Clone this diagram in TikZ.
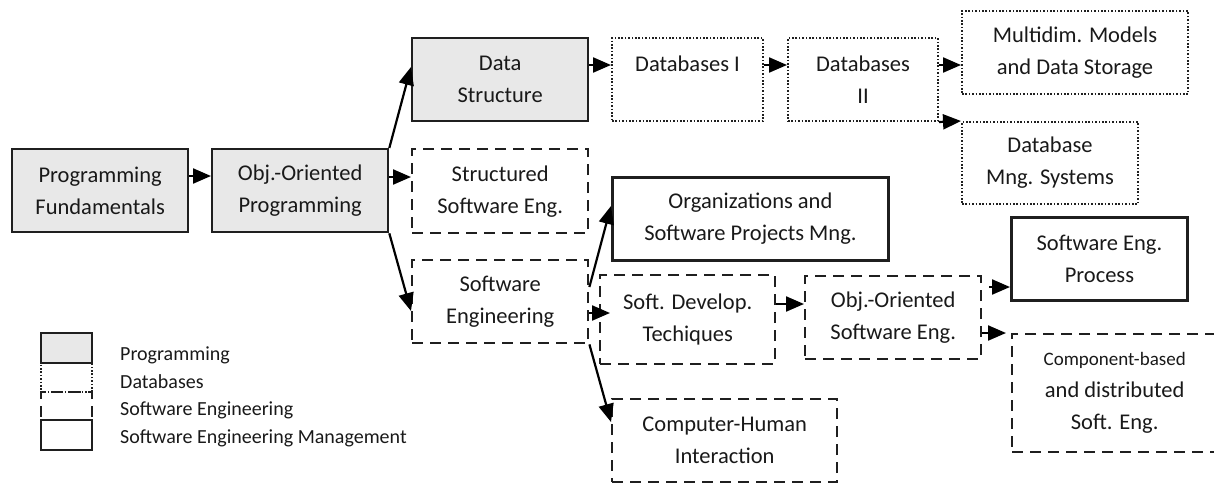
\documentclass[tikz,border=0pt]{standalone}
\usepackage{fontspec}
\setmainfont{Carlito}
\usetikzlibrary{arrows.meta,calc}
\begin{document}
\begin{tikzpicture}[x=1pt,y=-1pt,
  box/.style={draw=black!88, line width=2.3pt, inner sep=0pt, align=center,
    font=\fontsize{22.5}{32}\selectfont, text=black!90, anchor=north west},
  prog/.style={box, fill=black!9},
  db/.style={box, line width=2pt, dash pattern=on 1.6pt off 1.8pt},
  swe/.style={box, line width=2.4pt, dash pattern=on 11pt off 7pt},
  mgmt/.style={box, line width=2.8pt},
  arr/.style={-{Triangle[length=18pt,width=15pt]}, line width=2.2pt, draw=black},
  legtxt/.style={anchor=base west, inner sep=0pt, font=\fontsize{20}{24}\selectfont, text=black!90}]
\useasboundingbox (0,0) rectangle (1214,482);
\clip (0,0) rectangle (1214,482);
% boxes
\node[prog, minimum width=176, minimum height=83] (pf) at (11,148) {Programming\\Fundamentals};
\node[prog, minimum width=176, minimum height=83] (oop) at (211,148) {Obj.-Oriented\\Programming};
\node[prog, minimum width=176, minimum height=83] (ds) at (411,37) {Data\\Structure};
\node[db, minimum width=151, minimum height=83] (dbi) at (611,37) {Databases I\\\mbox{}};
\node[db, minimum width=150, minimum height=83] (dbii) at (787,37) {Databases\\II};
\node[db, minimum width=226, minimum height=83] (md) at (961,10) {Multidim. Models\\and Data Storage};
\node[db, minimum width=176, minimum height=82] (dbms) at (961,121) {Database\\Mng. Systems};
\node[swe, minimum width=176, minimum height=84] (sse) at (411,148) {Structured\\Software Eng.};
\node[mgmt, minimum width=276, minimum height=83] (org) at (611,176) {Organizations and\\Software Projects Mng.};
\node[swe, minimum width=176, minimum height=83] (se) at (411,259) {Software\\Engineering};
\node[swe, minimum width=175, minimum height=89] (sdt) at (599,274) {Soft. Develop.\\Techiques};
\node[swe, minimum width=176, minimum height=83] (oose) at (804,275) {Obj.-Oriented\\Software Eng.};
\node[mgmt, minimum width=176, minimum height=83] (sep) at (1010,216) {Software Eng.\\Process};
\node[swe, minimum width=225, minimum height=83] (chi) at (611,398) {Computer-Human\\Interaction};
\node[swe, minimum width=205, minimum height=118] (cbd) at (1011,333) {{\fontsize{19}{30}\selectfont Component-based}\\and distributed\\Soft. Eng.};
% connectors
\draw[arr] (pf.east |- 0,176) -- (oop.west |- 0,176);
\draw[arr] (oop.north east) -- (ds.west |- 0,67);
\draw[arr] (oop.east |- 0,177) -- (sse.west |- 0,177);
\draw[arr] (oop.south east) -- (se.west |- 0,311);
\draw[arr] (ds.east |- 0,65) -- (dbi.west |- 0,65);
\draw[arr] (dbi.east |- 0,65) -- (dbii.west |- 0,65);
\draw[arr] (dbii.east |- 0,65) -- (md.west |- 0,65);
\draw[arr] (dbii.south east) -- (dbms.north west);
\draw[arr] (se.east |- 0,287) -- (org.west |- 0,206);
\draw[arr] (se.east |- 0,313) -- ($(sdt.west |- 0,313)+(11,0)$);
\draw[arr] (se.south east) -- (chi.west |- 0,422);
\draw[arr] (sdt.east |- 0,304) -- (oose.west |- 0,304);
\draw[arr] ($(oose.east |- 0,287)+(7,0)$) -- (sep.west |- 0,287);
\draw[arr] (oose.east |- 0,333) -- ($(cbd.north west)+(-5,0)$);
% legend
\node[prog, line width=2pt, minimum width=51, minimum height=30] (lp) at (40,332) {};
\node[db, minimum width=51, minimum height=29] (ld) at (40,362) {};
\node[swe, line width=2pt, minimum width=51, minimum height=28] (ls) at (40,391) {};
\node[box, line width=2pt, minimum width=51, minimum height=30] (lm) at (40,419) {};
\node[legtxt] (lt1) at (120,360) {Programming};
\node[legtxt] (lt2) at (120,388) {Databases};
\node[legtxt] (lt3) at (120,415) {Software Engineering};
\node[legtxt] (lt4) at (120,443) {Software Engineering Management};
\end{tikzpicture}
\end{document}
